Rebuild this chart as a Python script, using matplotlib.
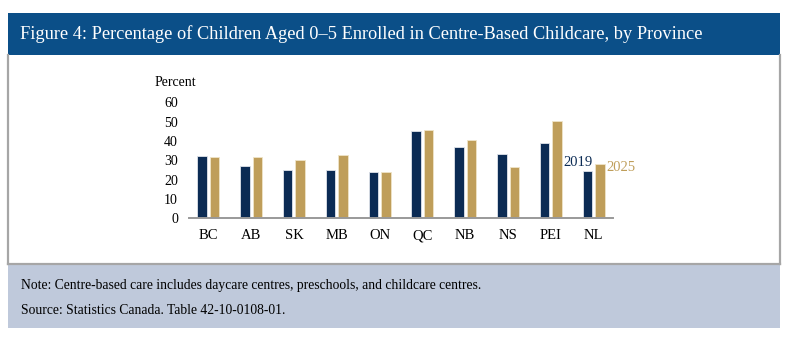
import numpy as np
import matplotlib
matplotlib.use("Agg")
import matplotlib.pyplot as plt
from matplotlib.patches import Rectangle
from matplotlib.lines import Line2D

provinces = ["BC", "AB", "SK", "MB", "ON", "QC", "NB", "NS", "PEI", "NL"]
pct_2019 = [32.1, 27.1, 25.2, 25.2, 24.0, 45.1, 36.9, 33.4, 38.9, 24.4]
pct_2025 = [31.6, 31.7, 30.4, 32.8, 23.8, 45.6, 40.5, 26.6, 50.3, 28.1]
yticks = [0, 10, 20, 30, 40, 50, 60]

title = "Figure 4: Percentage of Children Aged 0\u20135 Enrolled in Centre-Based Childcare, by Province"
note = "Note: Centre-based care includes daycare centres, preschools, and childcare centres."
source = "Source: Statistics Canada. Table 42-10-0108-01."

NAVY = "#0b2b54"
GOLD = "#bf9e5a"
HEADER = "#0b4f88"
PANEL = "#bfc9db"
GREY = "#a6a6a6"

plt.rcParams['font.family'] = ['Liberation Serif', 'DejaVu Serif']

W, H = 800, 354
fig = plt.figure(figsize=(8, 3.54), dpi=100)

def fx(px):
    return px / W

def fy(py):
    return 1 - py / H

# header band, white box, note panel (pixel coords converted)
fig.patches.append(Rectangle((fx(8), fy(55)), fx(772), 42 / H, transform=fig.transFigure,
                             facecolor=HEADER, edgecolor="none", zorder=0))
fig.patches.append(Rectangle((fx(8), fy(328)), fx(772), 64 / H, transform=fig.transFigure,
                             facecolor=PANEL, edgecolor="none", zorder=0))
for xs, ys in [([8, 8], [55, 264]), ([780, 780], [55, 264]), ([8, 780], [264, 264])]:
    fig.lines.append(Line2D([fx(x) for x in xs], [fy(y) for y in ys], transform=fig.transFigure,
                            color=GREY, lw=1.6))

fig.text(fx(20), fy(34), title, color="white", fontsize=13.2, va="center", ha="left")
fig.text(fx(21), fy(285), note, color="black", fontsize=9.8, va="center", ha="left")
fig.text(fx(21), fy(311), source, color="black", fontsize=9.8, va="center", ha="left")

ax = fig.add_axes([fx(189), fy(218.3), fx(424), 116 / H])
x = np.arange(len(provinces))
w = 0.22
off = 0.145
ax.bar(x - off, pct_2019, w, color=NAVY, edgecolor="#dfe3ea", linewidth=0.6, zorder=2)
ax.bar(x + off, pct_2025, w, color=GOLD, edgecolor="#efe4c8", linewidth=0.6, zorder=2)

ax.set_xlim(-0.45, len(provinces) - 0.55)
ax.set_ylim(0, 60)
ax.set_yticks(yticks)
ax.set_xticks(x)
ax.set_xticklabels(provinces, fontsize=10.5)
ax.tick_params(axis="y", length=0, labelsize=10, pad=8)
ax.tick_params(axis="x", length=0, pad=8)
for s in ["top", "right", "left"]:
    ax.spines[s].set_visible(False)
ax.spines["bottom"].set_color("#999999")
ax.spines["bottom"].set_linewidth(1.4)

fig.text(fx(155), fy(83), "Percent", fontsize=10, va="center", ha="left")

ax.text(x[-1] - off + w / 2 + 0.02, 29.1, "2019", color=NAVY, fontsize=10.5, ha="right", va="center")
ax.text(x[-1] + off + w / 2 + 0.04, 26.4, "2025", color=GOLD, fontsize=10.5, ha="left", va="center")

fig.savefig("out.png", dpi=100, facecolor="white")
